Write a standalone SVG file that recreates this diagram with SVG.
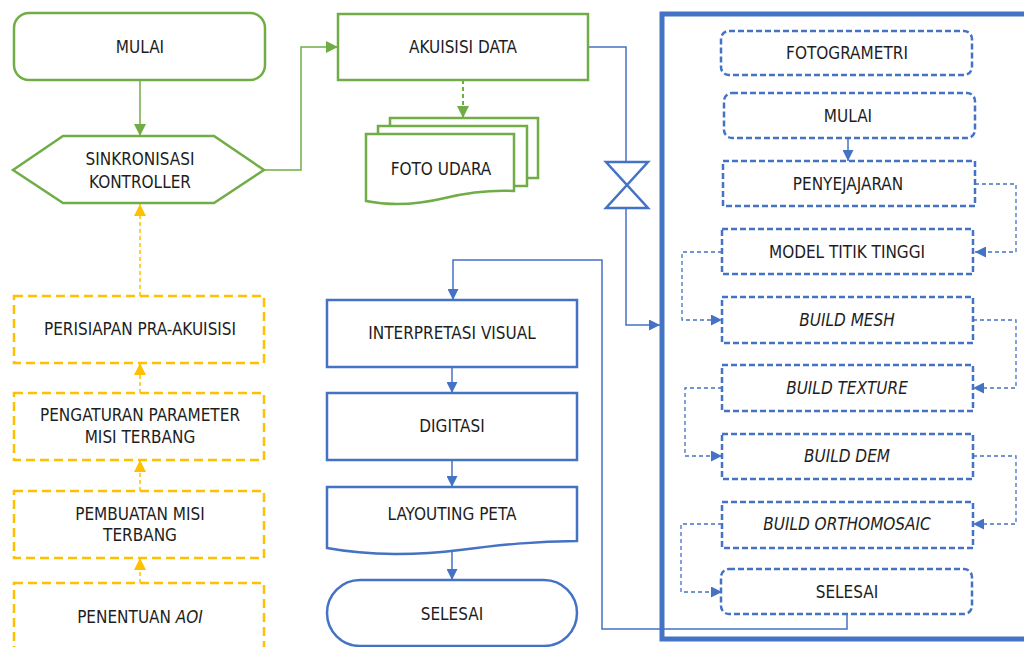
<svg xmlns="http://www.w3.org/2000/svg" width="1024" height="647" viewBox="0 0 1024 647">
  <style>
    text { font-family: "DejaVu Sans Condensed", "DejaVu Sans", sans-serif; font-stretch: condensed; font-size: 17px; fill: #1e1e1e; text-anchor: middle; }
    .it { font-style: italic; }
    .g { fill: #fff; stroke: #70AD47; stroke-width: 2.5; }
    .y { fill: #fff; stroke: #FFC000; stroke-width: 2.5; stroke-dasharray: 9 5; }
    .b { fill: #fff; stroke: #4472C4; stroke-width: 2.5; }
    .bd { fill: #fff; stroke: #4472C4; stroke-width: 2.5; stroke-dasharray: 6 3; }
    .cg { fill: none; stroke: #70AD47; stroke-width: 1.5; }
    .cgd { fill: none; stroke: #70AD47; stroke-width: 2; stroke-dasharray: 4 3; }
    .cy { fill: none; stroke: #FFC000; stroke-width: 1.5; stroke-dasharray: 4 3; }
    .cb { fill: none; stroke: #4472C4; stroke-width: 1.5; }
    .cbd { fill: none; stroke: #4472C4; stroke-width: 1.3; stroke-dasharray: 4 3; }
  </style>
  <defs>
    <marker id="ag" viewBox="0 0 12 12" refX="12" refY="6" markerWidth="12" markerHeight="12" markerUnits="userSpaceOnUse" orient="auto">
      <path d="M0,0 L12,6 L0,12 Z" fill="#70AD47"/>
    </marker>
    <marker id="ay" viewBox="0 0 12 12" refX="12" refY="6" markerWidth="12" markerHeight="12" markerUnits="userSpaceOnUse" orient="auto">
      <path d="M0,0 L12,6 L0,12 Z" fill="#FFC000"/>
    </marker>
    <marker id="ab" viewBox="0 0 11 11" refX="11" refY="5.5" markerWidth="11" markerHeight="11" markerUnits="userSpaceOnUse" orient="auto">
      <path d="M0,0 L11,5.5 L0,11 Z" fill="#4472C4"/>
    </marker>
  </defs>

  <!-- photogrammetry container -->
  <rect id="fotogrametri-frame" x="662" y="14" width="400" height="625" fill="none" stroke="#4472C4" stroke-width="5"/>

  <g id="connectors">
    <!-- green -->
    <path class="cg" d="M140,80 V136" marker-end="url(#ag)"/>
    <path class="cg" d="M264,170 H301 V47 H338" marker-end="url(#ag)"/>
    <path class="cgd" d="M463,80 V118" marker-end="url(#ag)"/>
    <!-- yellow -->
    <path class="cy" d="M140,296 V204" marker-end="url(#ay)"/>
    <path class="cy" d="M140,393 V363" marker-end="url(#ay)"/>
    <path class="cy" d="M140,491 V460" marker-end="url(#ay)"/>
    <path class="cy" d="M140,583 V558" marker-end="url(#ay)"/>
    <!-- blue -->
    <path class="cb" d="M588,47 H626 V162"/>
    <path class="cb" d="M626,208 V325 H660" marker-end="url(#ab)"/>
    <path class="cb" d="M847,614 V629 H602 V260 H453 V300" marker-end="url(#ab)"/>
    <path class="cb" d="M452,367 V393" marker-end="url(#ab)"/>
    <path class="cb" d="M452,460 V487" marker-end="url(#ab)"/>
    <path class="cb" d="M452,551 V580" marker-end="url(#ab)"/>
    <path class="cb" d="M848,138 V161" marker-end="url(#ab)"/>
    <!-- dashed loop inside the frame -->
    <path class="cbd" d="M975,184 H1016 V252 H975" marker-end="url(#ab)"/>
    <path class="cbd" d="M722,252 H682 V320 H722" marker-end="url(#ab)"/>
    <path class="cbd" d="M973,320 H1016 V388 H973" marker-end="url(#ab)"/>
    <path class="cbd" d="M722,388 H685 V456 H722" marker-end="url(#ab)"/>
    <path class="cbd" d="M973,456 H1016 V524 H973" marker-end="url(#ab)"/>
    <path class="cbd" d="M722,524 H681 V592 H722" marker-end="url(#ab)"/>
  </g>

  <!-- hourglass (collate) -->
  <g id="collate">
    <path class="b" d="M606,162 H648 L606,208 H648 Z"/>
  </g>

  <!-- green nodes -->
  <g id="mulai">
    <rect class="g" x="14" y="13" width="251" height="67" rx="15"/>
    <text x="140" y="53">MULAI</text>
  </g>
  <g id="sinkronisasi">
    <path class="g" d="M13,170 L63,136 H214 L264,170 L214,203 H63 Z"/>
    <text x="140" y="165">SINKRONISASI</text>
    <text x="140" y="188">KONTROLLER</text>
  </g>
  <g id="akuisisi-data">
    <rect class="g" x="338" y="14" width="250" height="66"/>
    <text x="463" y="53">AKUISISI DATA</text>
  </g>
  <g id="foto-udara">
    <rect class="g" x="390" y="118" width="148" height="60"/>
    <rect class="g" x="378" y="126" width="149" height="60"/>
    <path class="g" d="M366,134 H514 V191 C490,190 470,192 445,198 C420,204 395,207 366,201 Z"/>
    <text x="441" y="175">FOTO UDARA</text>
  </g>

  <!-- yellow preparation nodes -->
  <g id="perisiapan">
    <rect class="y" x="14" y="296" width="250" height="67"/>
    <text x="140" y="335">PERISIAPAN PRA-AKUISISI</text>
  </g>
  <g id="pengaturan">
    <rect class="y" x="14" y="393" width="250" height="67"/>
    <text x="140" y="421">PENGATURAN PARAMETER</text>
    <text x="140" y="443">MISI TERBANG</text>
  </g>
  <g id="pembuatan">
    <rect class="y" x="14" y="491" width="250" height="67"/>
    <text x="140" y="520">PEMBUATAN MISI</text>
    <text x="140" y="541">TERBANG</text>
  </g>
  <g id="penentuan">
    <rect class="y" x="14" y="583" width="250" height="80"/>
    <text x="140" y="623">PENENTUAN <tspan class="it">AOI</tspan></text>
  </g>

  <!-- blue mapping nodes -->
  <g id="interpretasi">
    <rect class="b" x="327" y="300" width="250" height="67"/>
    <text x="452" y="339">INTERPRETASI VISUAL</text>
  </g>
  <g id="digitasi">
    <rect class="b" x="327" y="393" width="250" height="67"/>
    <text x="452" y="432">DIGITASI</text>
  </g>
  <g id="layouting">
    <path class="b" d="M327,487 H577 V541 C535,541 500,545 460,550 C420,555 370,556 327,548 Z"/>
    <text x="452" y="520">LAYOUTING PETA</text>
  </g>
  <g id="selesai">
    <rect class="b" x="327" y="580" width="250" height="66" rx="33"/>
    <text x="452" y="620">SELESAI</text>
  </g>

  <!-- photogrammetry steps -->
  <g id="fg-title">
    <rect class="bd" x="721" y="31" width="251" height="44" rx="8"/>
    <text x="847" y="59">FOTOGRAMETRI</text>
  </g>
  <g id="fg-mulai">
    <rect class="bd" x="724" y="93" width="251" height="45" rx="8"/>
    <text x="848" y="122">MULAI</text>
  </g>
  <g id="fg-penyejajaran">
    <rect class="bd" x="723" y="161" width="252" height="45"/>
    <text x="848" y="190">PENYEJAJARAN</text>
  </g>
  <g id="fg-model">
    <rect class="bd" x="722" y="229" width="251" height="45"/>
    <text x="847" y="258">MODEL TITIK TINGGI</text>
  </g>
  <g id="fg-mesh">
    <rect class="bd" x="722" y="297" width="251" height="46"/>
    <text class="it" x="847" y="326">BUILD MESH</text>
  </g>
  <g id="fg-texture">
    <rect class="bd" x="722" y="365" width="251" height="46"/>
    <text class="it" x="847" y="394">BUILD TEXTURE</text>
  </g>
  <g id="fg-dem">
    <rect class="bd" x="722" y="434" width="251" height="45"/>
    <text class="it" x="847" y="462">BUILD DEM</text>
  </g>
  <g id="fg-ortho">
    <rect class="bd" x="722" y="502" width="251" height="46"/>
    <text class="it" x="847" y="530">BUILD ORTHOMOSAIC</text>
  </g>
  <g id="fg-selesai">
    <rect class="bd" x="721" y="569" width="251" height="45" rx="8"/>
    <text x="847" y="598">SELESAI</text>
  </g>
</svg>
